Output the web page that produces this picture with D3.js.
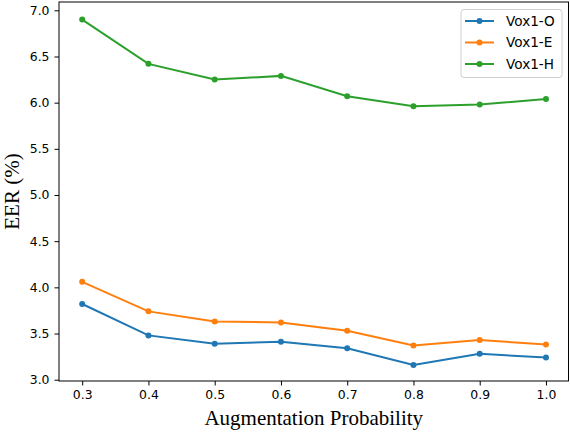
<!DOCTYPE html>
<html>
<head>
<meta charset="utf-8">
<script src="https://cdn.jsdelivr.net/npm/d3@7"></script>
<style>
  body { margin: 0; background: #fff; }
  svg text { font-family: "DejaVu Sans", sans-serif; }
</style>
</head>
<body>
<svg id="chart" width="570" height="432"></svg>
<script>
// augmentation probability on x
var probs = [0.3, 0.4, 0.5, 0.6, 0.7, 0.8, 0.9, 1.0];
var seriesNames = ["Vox1-O", "Vox1-E", "Vox1-H"];
var vox1O = [3.82, 3.48, 3.39, 3.41, 3.34, 3.16, 3.28, 3.24];
var vox1E = [4.06, 3.74, 3.63, 3.62, 3.53, 3.37, 3.43, 3.38];
var vox1H = [6.90, 6.42, 6.25, 6.29, 6.07, 5.96, 5.98, 6.04];
var colors = ["#1f77b4", "#ff7f0e", "#2ca02c"];
var xTicks = [0.3, 0.4, 0.5, 0.6, 0.7, 0.8, 0.9, 1.0];
var yTicks = [3.0, 3.5, 4.0, 4.5, 5.0, 5.5, 6.0, 6.5, 7.0];

var margin = {top: 2, right: 1.5, bottom: 51, left: 59},
    width = 570 - margin.left - margin.right,
    height = 432 - margin.top - margin.bottom;

var svg = d3.select("#chart");
var g = svg.append("g")
    .attr("transform", "translate(" + margin.left + "," + margin.top + ")");

var x = d3.scaleLinear().domain([0.265, 1.034]).range([0, width]);
var y = d3.scaleLinear().domain([2.986, 7.09]).range([height, 0]);

g.append("g")
    .attr("transform", "translate(0," + height + ")")
    .call(d3.axisBottom(x).tickValues(xTicks).tickFormat(d3.format(".1f")).tickSize(4.5).tickPadding(5))
    .call(function(a) {
      a.select(".domain").remove();
      a.selectAll("text").attr("font-size", "12.4px").attr("fill", "#000").attr("font-family", "DejaVu Sans");
      a.selectAll("line").attr("stroke", "#000").attr("stroke-width", 1);
    });

g.append("g")
    .call(d3.axisLeft(y).tickValues(yTicks).tickFormat(d3.format(".1f")).tickSize(4.5).tickPadding(5))
    .call(function(a) {
      a.select(".domain").remove();
      a.selectAll("text").attr("font-size", "12.4px").attr("fill", "#000").attr("font-family", "DejaVu Sans");
      a.selectAll("line").attr("stroke", "#000").attr("stroke-width", 1);
    });

// frame
g.append("rect")
    .attr("width", width).attr("height", height)
    .attr("fill", "none").attr("stroke", "#000").attr("stroke-width", 1);

var allSeries = [vox1O, vox1E, vox1H];

var line = d3.line()
    .x(function(d, i) { return x(probs[i]); })
    .y(function(d) { return y(d); });

allSeries.forEach(function(vals, k) {
  g.append("path")
      .datum(vals)
      .attr("d", line)
      .attr("fill", "none")
      .attr("stroke", colors[k])
      .attr("stroke-width", 2);
  g.selectAll(".pt" + k)
    .data(vals)
    .enter().append("circle")
      .attr("class", "pt" + k)
      .attr("cx", function(d, i) { return x(probs[i]); })
      .attr("cy", function(d) { return y(d); })
      .attr("r", 3)
      .attr("fill", colors[k]);
});

// legend
var leg = svg.append("g").attr("transform", "translate(461,9.5)");
leg.append("rect")
    .attr("width", 101).attr("height", 68)
    .attr("rx", 3)
    .attr("fill", "#fff").attr("fill-opacity", 0.8)
    .attr("stroke", "#d0d0d0").attr("stroke-width", 1);

seriesNames.forEach(function(name, k) {
  var yy = 11.5 + k * 21.5;
  leg.append("line")
      .attr("x1", 4).attr("x2", 33)
      .attr("y1", yy).attr("y2", yy)
      .attr("stroke", colors[k]).attr("stroke-width", 2);
  leg.append("circle")
      .attr("cx", 18.5).attr("cy", yy).attr("r", 3)
      .attr("fill", colors[k]);
  leg.append("text")
      .attr("x", 45).attr("y", yy)
      .attr("dy", "0.36em")
      .attr("font-size", "13.6px")
      .attr("fill", "#000")
      .text(name);
});

// axis labels
svg.append("text")
    .attr("x", margin.left + width / 2)
    .attr("y", 425)
    .attr("text-anchor", "middle")
    .style("font-family", "'Liberation Serif', 'Times New Roman', serif")
    .attr("font-size", "21px")
    .text("Augmentation Probability");

svg.append("text")
    .attr("transform", "translate(18.5," + (margin.top + height / 2) + ") rotate(-90)")
    .attr("text-anchor", "middle")
    .style("font-family", "'Liberation Serif', 'Times New Roman', serif")
    .attr("font-size", "21px")
    .text("EER (%)");
</script>
</body>
</html>
